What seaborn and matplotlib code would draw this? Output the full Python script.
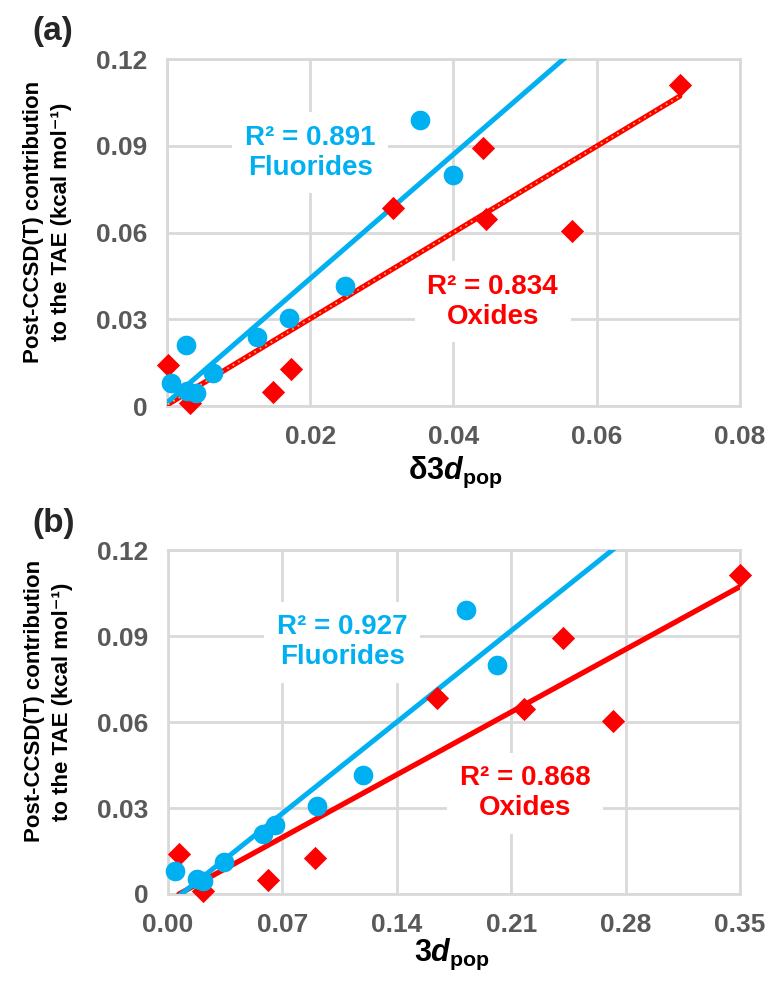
import numpy as np
import pandas as pd
import seaborn as sns
import matplotlib.pyplot as plt

# Post-CCSD(T) contribution to the TAE (kcal/mol)
fl_tae = [0.0990, 0.0800, 0.0416, 0.0306, 0.0240, 0.0210, 0.0113, 0.0079, 0.0052, 0.0045]
ox_tae = [0.0141, 0.0010, 0.0048, 0.0127, 0.0684, 0.0893, 0.0646, 0.0605, 0.1112]

# panel (a): delta 3d population
fl_d3d = [0.0353, 0.0400, 0.0248, 0.0170, 0.0125, 0.0027, 0.0064, 0.0005, 0.0028, 0.0040]
ox_d3d = [0.0001, 0.0032, 0.0148, 0.0173, 0.0315, 0.0442, 0.0445, 0.0565, 0.0716]

# panel (b): 3d population
fl_3d = [0.1825, 0.2015, 0.1194, 0.0913, 0.0655, 0.0582, 0.0343, 0.0043, 0.0177, 0.0214]
ox_3d = [0.0067, 0.0214, 0.0612, 0.0900, 0.1648, 0.2419, 0.2180, 0.2725, 0.3497]

r2_a = ['0.891', '0.834']
r2_b = ['0.927', '0.868']

y_ticks = [0, 0.03, 0.06, 0.09, 0.12]
y_ticklabels = ['0', '0.03', '0.06', '0.09', '0.12']
xa_ticks = [0, 0.02, 0.04, 0.06, 0.08]
xa_ticklabels = ['', '0.02', '0.04', '0.06', '0.08']
xb_ticks = [0, 0.07, 0.14, 0.21, 0.28, 0.35]
xb_ticklabels = ['0.00', '0.07', '0.14', '0.21', '0.28', '0.35']

BLUE = '#00b0f0'
RED = '#ff0000'
GRID = '#d9d9d9'

sns.set_style('whitegrid', {'grid.color': GRID, 'axes.edgecolor': GRID})
plt.rcParams['font.family'] = ['Liberation Sans', 'DejaVu Sans']
plt.rcParams['font.weight'] = 'bold'
plt.rcParams['mathtext.fontset'] = 'custom'
plt.rcParams['mathtext.rm'] = 'Liberation Sans'
plt.rcParams['mathtext.bf'] = 'Liberation Sans:bold'
plt.rcParams['mathtext.it'] = 'Liberation Sans:italic'
plt.rcParams['mathtext.bfit'] = 'Liberation Sans:italic:bold'

fig = plt.figure(figsize=(7.71, 9.91), dpi=100)
ax_a = fig.add_axes([0.2166, 0.5903, 0.743, 0.350])
ax_b = fig.add_axes([0.2179, 0.0979, 0.742, 0.347])


def draw_panel(ax, x_fl, x_ox, xlim, xticks, xticklabels, r2, fl_pos, ox_pos):
    ax.set_xlim(xlim)
    ax.set_ylim(0, 0.12)
    # oxides: trendline only over the data range
    sns.regplot(x=x_ox, y=ox_tae, ax=ax, ci=None, truncate=True, marker='D',
                scatter_kws=dict(s=140, color=RED, alpha=1, linewidths=0, zorder=4, clip_on=False),
                line_kws=dict(color=RED, lw=3.8, zorder=3))
    # fluorides: trendline runs on to the edge of the axes
    sns.regplot(x=x_fl, y=fl_tae, ax=ax, ci=None, truncate=False, marker='o',
                scatter_kws=dict(s=200, color=BLUE, alpha=1, linewidths=0, zorder=4, clip_on=False),
                line_kws=dict(color=BLUE, lw=3.6, zorder=3))
    ax.set_xlim(xlim)
    ax.set_ylim(0, 0.12)

    ax.text(fl_pos[0], fl_pos[1], f'R² = {r2[0]}\nFluorides', color=BLUE, fontsize=20,
            fontweight='bold', ha='center', va='center', linespacing=1.2, zorder=1.5,
            bbox=dict(facecolor='white', edgecolor='none', pad=9))
    ax.text(ox_pos[0], ox_pos[1], f'R² = {r2[1]}\nOxides', color=RED, fontsize=20,
            fontweight='bold', ha='center', va='center', linespacing=1.2, zorder=1.5,
            bbox=dict(facecolor='white', edgecolor='none', pad=9))

    ax.set_xticks(xticks)
    ax.set_xticklabels(xticklabels)
    ax.set_yticks(y_ticks)
    ax.set_yticklabels(y_ticklabels)
    ax.tick_params(length=0, labelsize=19, labelcolor='#595959', pad=14)
    ax.grid(True, color=GRID, lw=2)
    for s in ax.spines.values():
        s.set_color(GRID)
        s.set_linewidth(2)
    ax.set_ylabel('Post-CCSD(T) contribution\nto the TAE (kcal mol⁻¹)', fontsize=16,
                  fontweight='bold', color='black', linespacing=1.45)


draw_panel(ax_a, fl_d3d, ox_d3d, (0, 0.08), xa_ticks, xa_ticklabels, r2_a,
           (0.020, 0.0876), (0.0455, 0.036))
draw_panel(ax_b, fl_3d, ox_3d, (0, 0.35), xb_ticks, xb_ticklabels, r2_b,
           (0.1066, 0.0879), (0.2186, 0.0352))

# the dotted look of the oxide trendline in panel (a)
red_line = ax_a.lines[0]
ax_a.plot(red_line.get_xdata(), red_line.get_ydata(), color='#f7b731', lw=1.3,
          ls=(0, (1, 2.5)), zorder=3.5)

ax_a.set_xlabel(r'$\mathbf{\delta3}\mathbfit{d}_{\mathbf{pop}}$', fontsize=22, color='black')
ax_b.set_xlabel(r'$\mathbf{3}\mathbfit{d}_{\mathbf{pop}}$', fontsize=22, color='black')
ax_a.xaxis.set_label_coords(0.503, -0.14)
ax_b.xaxis.set_label_coords(0.496, -0.125)
ax_a.yaxis.set_label_coords(-0.166, 0.53)
ax_b.yaxis.set_label_coords(-0.166, 0.56)

fig.text(0.069, 0.968, '(a)', fontsize=24, fontweight='bold', ha='center', va='center')
fig.text(0.069, 0.472, '(b)', fontsize=24, fontweight='bold', ha='center', va='center')

fig.savefig('out.png', dpi=100)
